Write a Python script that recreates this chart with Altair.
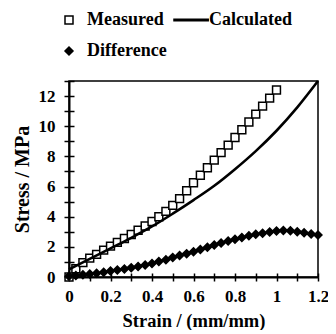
import altair as alt
import pandas as pd

# ---- data ----
series_names = ["Measured", "Calculated", "Difference"]

strain_meas = [0.000, 0.033, 0.067, 0.100, 0.133, 0.167, 0.200, 0.233, 0.267, 0.300,
               0.333, 0.367, 0.400, 0.433, 0.467, 0.500, 0.533, 0.567, 0.600, 0.633,
               0.667, 0.700, 0.733, 0.767, 0.800, 0.833, 0.867, 0.900, 0.933, 0.967, 1.000]
stress_meas = [0.0, 0.55, 0.95, 1.25, 1.5, 1.78, 2.05, 2.3, 2.55, 2.82,
               3.1, 3.38, 3.68, 4.0, 4.35, 4.75, 5.2, 5.72, 6.25, 6.75,
               7.25, 7.75, 8.25, 8.75, 9.25, 9.77, 10.28, 10.8, 11.33, 11.86, 12.4]

strain_diff = [0.000, 0.033, 0.067, 0.100, 0.133, 0.167, 0.200, 0.233, 0.267, 0.300,
               0.333, 0.367, 0.400, 0.433, 0.467, 0.500, 0.533, 0.567, 0.600, 0.633,
               0.667, 0.700, 0.733, 0.767, 0.800, 0.833, 0.867, 0.900, 0.933, 0.967,
               1.000, 1.033, 1.067, 1.100, 1.133, 1.167, 1.200]
stress_diff = [0.05, 0.1, 0.15, 0.2, 0.25, 0.32, 0.4, 0.46, 0.53, 0.62,
               0.7, 0.8, 0.9, 1.02, 1.15, 1.3, 1.42, 1.55, 1.68, 1.82,
               1.97, 2.12, 2.25, 2.38, 2.5, 2.62, 2.73, 2.83, 2.9, 2.98,
               3.05, 3.08, 3.07, 3.0, 2.93, 2.85, 2.78]

strain_calc = [0.0, 0.1, 0.2, 0.3, 0.4, 0.5, 0.6, 0.7, 0.8, 0.9, 1.0, 1.1, 1.2]
stress_calc = [0.5, 1.2, 1.9, 2.6, 3.35, 4.2, 5.1, 6.05, 7.15, 8.35, 9.7, 11.25, 13.0]

x_ticks = [0.0, 0.1, 0.2, 0.3, 0.4, 0.5, 0.6, 0.7, 0.8, 0.9, 1.0, 1.1, 1.2]
y_ticks = [0, 1, 2, 3, 4, 5, 6, 7, 8, 9, 10, 11, 12, 13]

pts = pd.DataFrame({
    "strain": strain_meas + strain_diff,
    "stress": stress_meas + stress_diff,
    "series": ["Measured"] * len(strain_meas) + ["Difference"] * len(strain_diff),
})
calc = pd.DataFrame({"strain": strain_calc, "stress": stress_calc})

FONT = "Liberation Serif, Times New Roman, serif"
W, H = 249, 196

xscale = alt.Scale(domain=[0, 1.2], nice=False, zero=False)
yscale = alt.Scale(domain=[0, 13], nice=False, zero=False)

legend = alt.Legend(
    title=None, orient="none", legendX=-9, legendY=-70, columns=2, direction="horizontal",
    values=series_names,
    symbolSize=64, symbolStrokeWidth=1.5, symbolStrokeColor="black",
    labelFont=FONT, labelFontSize=18, labelFontWeight="bold", labelColor="black",
    labelOffset=9, columnPadding=4, rowPadding=13, padding=0,
)
shape_scale = alt.Scale(domain=series_names,
                        range=["square", "M-4.25,-0.2H4.3V0.2H-4.25Z", "diamond"])
fill_scale = alt.Scale(domain=series_names, range=["white", "black", "black"])
stroke_scale = alt.Scale(domain=series_names, range=["black", "black", "black"])

x_axis = alt.Axis(values=x_ticks, title="Strain / (mm/mm)",
                  labelExpr="round(datum.value*10) % 2 == 0 ? format(datum.value, '~g') : ''",
                  labelFlush=False, tickSize=4, labelPadding=7, titlePadding=7,
                  titleFontSize=18.5)
y_axis = alt.Axis(values=y_ticks, title="Stress / MPa",
                  labelExpr="datum.value % 2 == 0 ? datum.label : ''",
                  labelFlush=False, tickSize=5, labelPadding=9, titlePadding=6,
                  titleFontSize=20)

points = alt.Chart(pts).mark_point(size=62, strokeWidth=1.5, opacity=1).encode(
    x=alt.X("strain:Q", scale=xscale, axis=x_axis),
    y=alt.Y("stress:Q", scale=yscale, axis=y_axis),
    shape=alt.Shape("series:N", scale=shape_scale, legend=legend),
    fill=alt.Fill("series:N", scale=fill_scale, legend=legend),
    stroke=alt.Stroke("series:N", scale=stroke_scale, legend=legend),
)

line = alt.Chart(calc).mark_line(color="black", strokeWidth=2.6, interpolate="monotone").encode(
    x=alt.X("strain:Q", scale=xscale, axis=None),
    y=alt.Y("stress:Q", scale=yscale, axis=None),
)

inner = alt.Chart(calc).mark_point(opacity=0).encode(
    x=alt.X("strain:Q", scale=xscale,
            axis=alt.Axis(orient="top", offset=-H, values=x_ticks, labels=False,
                          domain=False, title=None, tickSize=4)),
    y=alt.Y("stress:Q", scale=yscale,
            axis=alt.Axis(orient="right", offset=-W, values=y_ticks, labels=False,
                          domain=False, title=None, tickSize=5)),
)

chart = alt.layer(points, line, inner).resolve_axis(
    x="independent", y="independent"
).properties(
    width=W, height=H,
    autosize=alt.AutoSizeParams(type="none"),
    padding={"left": 61, "top": 73, "right": 10, "bottom": 53},
).configure_view(
    stroke="black", strokeWidth=1.5
).configure_axis(
    grid=False, domainColor="black", domainWidth=2, tickColor="black", tickWidth=1.5,
    labelFont=FONT, labelFontSize=17, labelFontWeight="bold", labelColor="black",
    titleFont=FONT, titleFontWeight="bold", titleColor="black",
)

chart.save("out.html", embed_options={"renderer": "svg", "actions": False})
